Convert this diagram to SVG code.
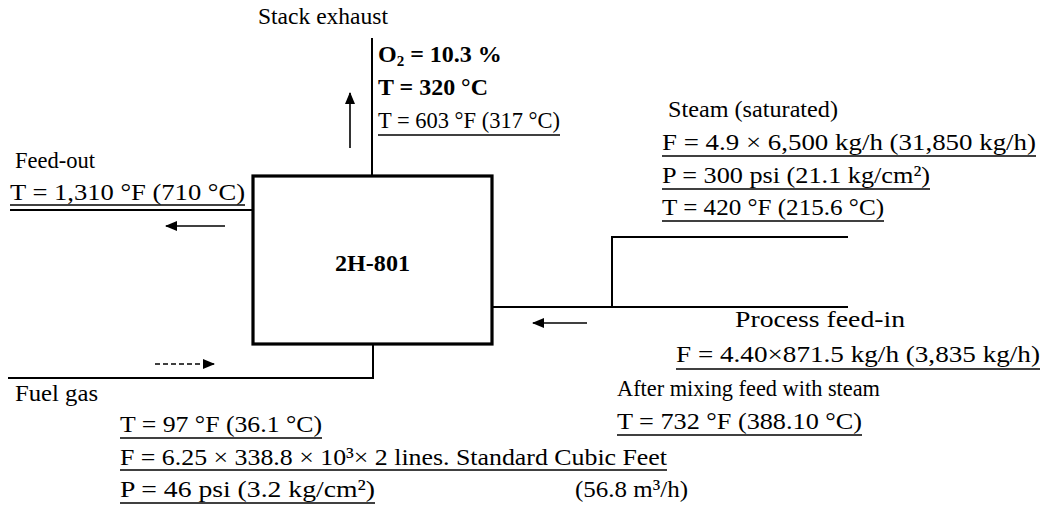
<svg xmlns="http://www.w3.org/2000/svg" width="1047" height="515" viewBox="0 0 1047 515">
<style>
text{font-family:"Liberation Serif","Times New Roman",serif;font-size:24px;fill:#000}
.b{font-weight:bold}
.ln{stroke:#000;stroke-width:2;fill:none}
.ul{stroke:#000;stroke-width:1.6;fill:none}
.ar{stroke:#000;stroke-width:1.6;fill:none}
.box{stroke:#000;stroke-width:3.2;fill:#fff}
</style>
<defs>
<marker id="ah" viewBox="0 0 12 10" refX="11" refY="5" markerWidth="12" markerHeight="10" markerUnits="userSpaceOnUse" orient="auto">
<path d="M0,0 L12,5 L0,10 Z" fill="#000"/>
</marker>
</defs>
<rect width="1047" height="515" fill="#fff"/>

<g id="connectors">
<path class="ln" d="M372,38 V176"/>
<path class="ln" d="M10,210 H253"/>
<path class="ln" d="M492,307 H848"/>
<path class="ln" d="M612,307 V237 H848"/>
<path class="ln" d="M373,344 V378 H8"/>
<path class="ar" d="M350,148 V93" marker-end="url(#ah)"/>
<path class="ar" d="M225,226 H166" marker-end="url(#ah)"/>
<path class="ar" d="M587,323 H533" marker-end="url(#ah)"/>
<path class="ar" d="M155,364 H214" stroke-dasharray="5,3" marker-end="url(#ah)"/>
</g>

<g id="n-2H-801">
<rect class="box" x="253" y="176" width="239" height="168"/>
<text class="b" x="335" y="271" textLength="75" lengthAdjust="spacingAndGlyphs">2H-801</text>
</g>

<g id="stack-exhaust">
<text x="258" y="24" textLength="130" lengthAdjust="spacingAndGlyphs">Stack exhaust</text>
<text class="b" x="378" y="62">O<tspan font-size="15" dy="4">2</tspan><tspan dy="-4"> = 10.3 %</tspan></text>
<text class="b" x="378" y="95" textLength="110" lengthAdjust="spacingAndGlyphs">T = 320 °C</text>
<text x="378" y="128" textLength="182" lengthAdjust="spacingAndGlyphs">T = 603 °F (317 °C)</text>
<path class="ul" d="M378,135 H560"/>
</g>

<g id="steam">
<text x="668" y="117" textLength="170" lengthAdjust="spacingAndGlyphs">Steam (saturated)</text>
<text x="662" y="150" textLength="374" lengthAdjust="spacingAndGlyphs">F = 4.9 × 6,500 kg/h (31,850 kg/h)</text>
<path class="ul" d="M662,156 H1036"/>
<text x="662" y="183" textLength="268" lengthAdjust="spacingAndGlyphs">P = 300 psi (21.1 kg/cm²)</text>
<path class="ul" d="M662,189 H930"/>
<text x="662" y="215" textLength="222" lengthAdjust="spacingAndGlyphs">T = 420 °F (215.6 °C)</text>
<path class="ul" d="M662,221 H884"/>
</g>

<g id="feed-out">
<text x="15" y="168" textLength="80" lengthAdjust="spacingAndGlyphs">Feed-out</text>
<text x="10" y="200" textLength="235" lengthAdjust="spacingAndGlyphs">T = 1,310 °F (710 °C)</text>
<path class="ul" d="M10,205 H245"/>
</g>

<g id="process-feed">
<text x="735" y="327" textLength="170" lengthAdjust="spacingAndGlyphs">Process feed-in</text>
<text x="676" y="362" textLength="364" lengthAdjust="spacingAndGlyphs">F = 4.40×871.5 kg/h (3,835 kg/h)</text>
<path class="ul" d="M676,369 H1040"/>
<text x="617" y="396" textLength="263" lengthAdjust="spacingAndGlyphs">After mixing feed with steam</text>
<text x="617" y="429" textLength="245" lengthAdjust="spacingAndGlyphs">T = 732 °F (388.10 °C)</text>
<path class="ul" d="M617,435 H862"/>
</g>

<g id="fuel-gas">
<text x="15" y="401" textLength="83" lengthAdjust="spacingAndGlyphs">Fuel gas</text>
<text x="120" y="432" textLength="202" lengthAdjust="spacingAndGlyphs">T = 97 °F (36.1 °C)</text>
<path class="ul" d="M120,438 H322"/>
<text x="120" y="465" textLength="547" lengthAdjust="spacingAndGlyphs">F = 6.25 × 338.8 × 10³× 2 lines. Standard Cubic Feet</text>
<path class="ul" d="M120,470 H667"/>
<text x="120" y="497" textLength="255" lengthAdjust="spacingAndGlyphs">P = 46 psi (3.2 kg/cm²)</text>
<path class="ul" d="M120,503 H375"/>
<text x="575" y="497" textLength="113" lengthAdjust="spacingAndGlyphs">(56.8 m³/h)</text>
</g>
</svg>
